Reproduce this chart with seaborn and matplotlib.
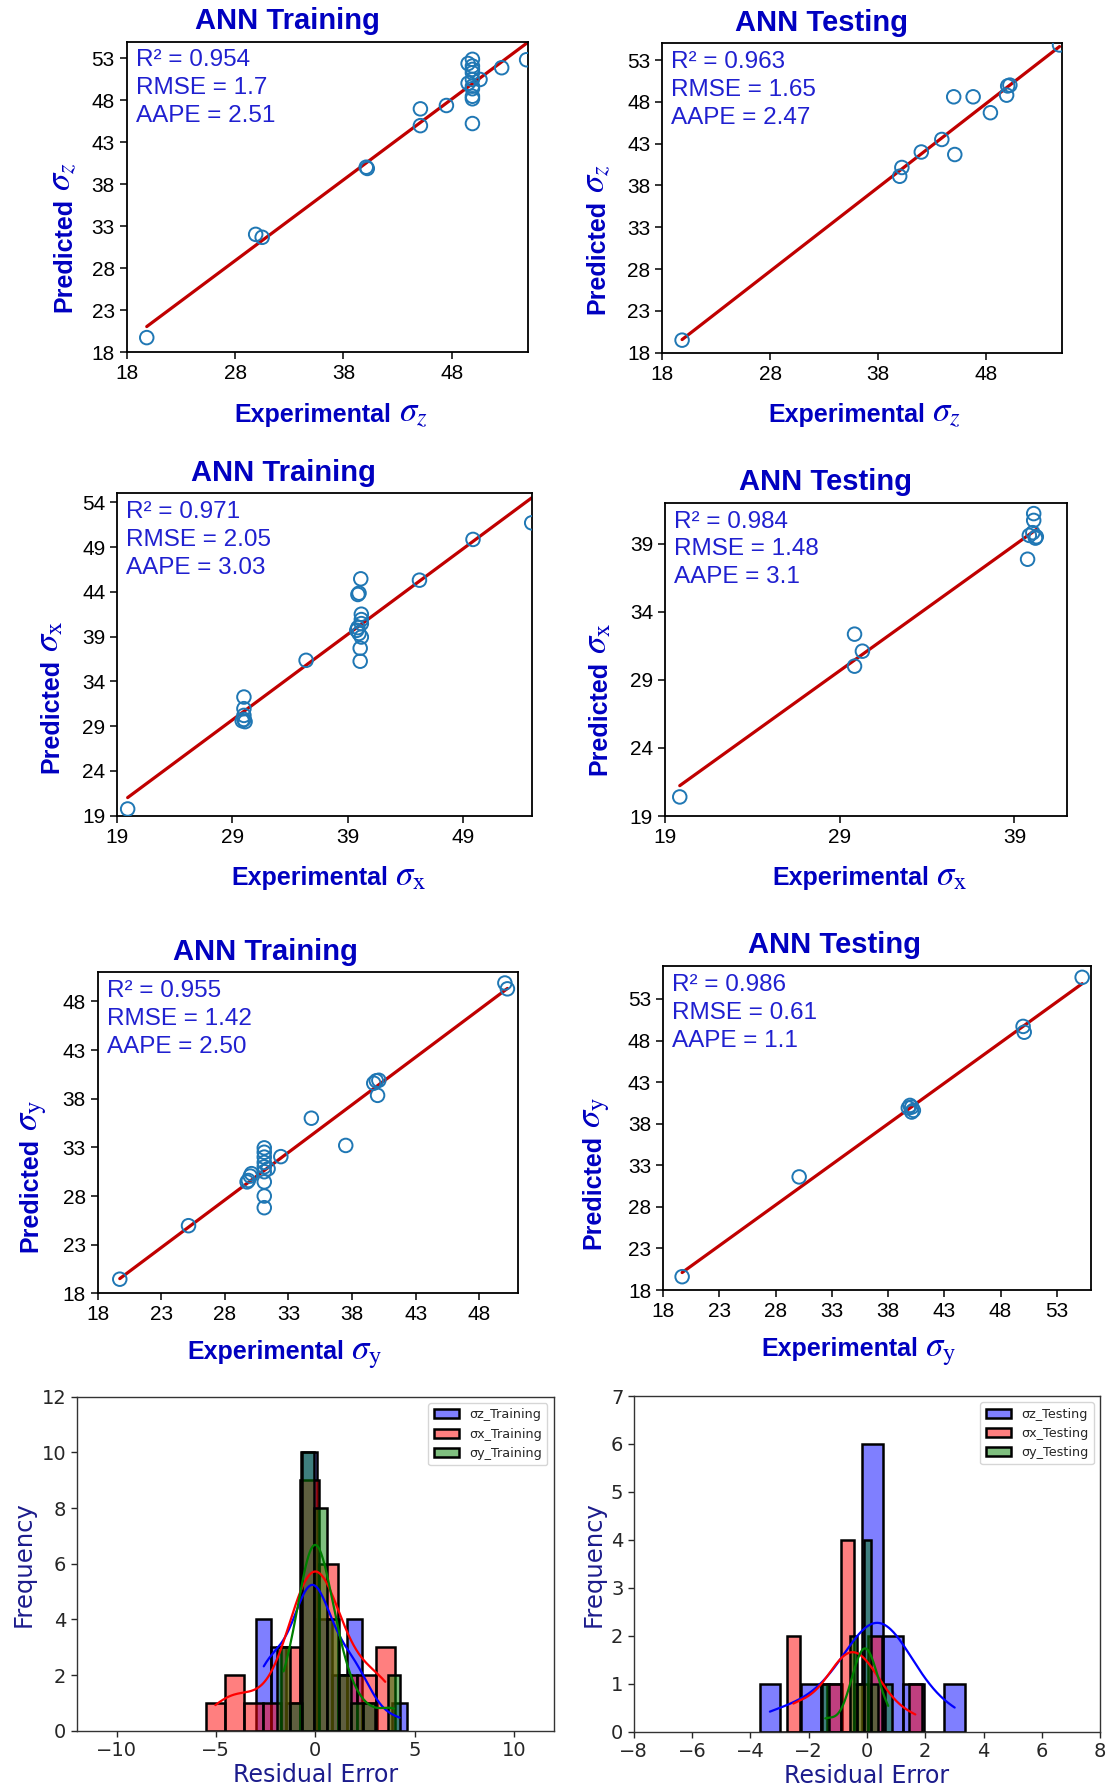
import numpy as np
import pandas as pd
import matplotlib
matplotlib.use("Agg")
import matplotlib.pyplot as plt
import seaborn as sns

# ---------------- data: experimental vs predicted stresses ----------------
z_train_exp = [19.85, 29.9, 30.5, 40.1, 40.2, 45.1, 45.1, 47.5, 49.5, 49.9, 49.9, 49.9,
               49.9, 49.9, 49.9, 49.9, 49.9, 49.5, 50.6, 52.6, 54.9, 49.9, 49.9]
z_train_pred = [19.75, 32.05, 31.7, 40.05, 39.9, 47.0, 45.0, 47.4, 50.05, 45.25, 48.2, 48.5,
                49.7, 50.5, 51.3, 52.1, 52.9, 52.4, 50.5, 51.9, 52.85, 49.4, 51.7]

z_test_exp = [19.85, 40.0, 40.2, 42.0, 43.9, 45.1, 45.0, 46.8, 48.4, 49.9, 50.2, 50.0, 54.8]
z_test_pred = [19.5, 39.1, 40.15, 42.0, 43.5, 41.7, 48.6, 48.6, 46.7, 48.8, 50.0, 49.9, 54.8]

x_train_exp = [19.9, 30.0, 30.0, 30.0, 30.0, 30.1, 29.85, 35.4, 40.15, 40.0, 39.9, 40.2,
               40.2, 39.8, 40.0, 40.2, 40.1, 40.1, 45.25, 49.9, 55.0, 40.2, 39.9]
x_train_pred = [19.75, 32.25, 30.95, 30.2, 29.75, 29.5, 29.6, 36.35, 45.45, 43.85, 43.7, 41.5,
                40.45, 39.7, 39.35, 38.95, 37.7, 36.25, 45.3, 49.85, 51.7, 40.9, 40.0]

x_test_exp = [19.85, 29.85, 30.3, 29.85, 39.75, 39.85, 40.05, 40.2, 40.25, 40.1, 40.1]
x_test_pred = [20.4, 32.35, 31.1, 30.0, 37.85, 39.6, 39.8, 39.4, 39.5, 40.7, 41.2]

y_train_exp = [19.75, 25.15, 29.85, 30.0, 30.1, 29.75, 31.1, 31.1, 31.1, 31.1, 31.1, 31.1,
               31.1, 31.1, 31.1, 31.4, 32.4, 34.8, 37.5, 39.7, 39.9, 40.1, 40.0, 50.0, 50.2]
y_train_pred = [19.45, 24.95, 29.6, 30.05, 30.3, 29.45, 26.8, 28.0, 29.45, 30.5, 31.0, 31.45,
                32.0, 32.5, 32.95, 30.8, 32.05, 36.0, 33.2, 39.6, 39.85, 39.9, 38.35, 49.9, 49.3]

y_test_exp = [19.7, 30.1, 39.95, 40.1, 40.25, 39.8, 40.1, 50.0, 50.1, 55.25]
y_test_pred = [19.6, 31.6, 40.2, 40.0, 39.6, 39.9, 39.4, 49.7, 49.0, 55.6]

# fit statistics shown on each panel
stats_text = {
    "z_train": ("0.954", "1.7", "2.51"),
    "z_test": ("0.963", "1.65", "2.47"),
    "x_train": ("0.971", "2.05", "3.03"),
    "x_test": ("0.984", "1.48", "3.1"),
    "y_train": ("0.955", "1.42", "2.50"),
    "y_test": ("0.986", "0.61", "1.1"),
}

# ---------------- data: residual histograms (bin edges and counts) ----------------
sz_train_edges = [-2.97, -2.21, -1.45, -0.69, 0.07, 0.83, 1.59, 2.35, 3.11, 3.87, 4.63]
sz_train_counts = [4, 3, 1, 10, 4, 2, 4, 1, 0, 1]
sx_train_edges = [-5.5, -4.55, -3.6, -2.65, -1.7, -0.75, 0.2, 1.15, 2.1, 3.05, 4.0]
sx_train_counts = [1, 2, 1, 1, 3, 9, 6, 2, 2, 3]
sy_train_edges = [-1.9, -1.28, -0.67, -0.05, 0.57, 1.18, 1.8, 2.42, 3.03, 3.65, 4.27]
sy_train_counts = [3, 1, 10, 8, 4, 2, 1, 1, 0, 2]

sz_test_edges = [-3.68, -2.98, -2.27, -1.57, -0.86, -0.16, 0.55, 1.25, 1.96, 2.66, 3.36]
sz_test_counts = [1, 0, 1, 1, 0, 6, 2, 1, 0, 1]
sx_test_edges = [-2.76, -2.29, -1.83, -1.36, -0.9, -0.43, 0.03, 0.5, 0.96, 1.43, 1.89]
sx_test_counts = [2, 0, 0, 1, 4, 1, 2, 0, 0, 1]
sy_test_edges = [-1.55, -1.31, -1.07, -0.83, -0.59, -0.35, -0.11, 0.13, 0.37, 0.61, 0.85]
sy_test_counts = [1, 0, 0, 0, 2, 1, 4, 1, 0, 1]

# ---------------- style ----------------
sns.set_style("ticks")
plt.rcParams["font.family"] = ["Liberation Sans", "DejaVu Sans"]
plt.rcParams["mathtext.fontset"] = "stix"

TITLE_C = "#0000c0"
STAT_C = "#2020d0"
POINT_C = "#1f77b4"
LINE_C = "#c00000"
HIST_LABEL_C = "#1c1c8c"

W, H = 1111, 1792
fig = plt.figure(figsize=(W / 100, H / 100), dpi=100)


def add_axes(left, top, right, bottom):
    return fig.add_axes([left / W, 1 - bottom / H, (right - left) / W, (bottom - top) / H])


def scatter_panel(box, exp, pred, title, sym, lims, ticks, stats, xlab_pos, ylab_pos):
    ax = add_axes(*box)
    sns.regplot(x=exp, y=pred, ax=ax, ci=None, color=POINT_C,
                scatter_kws=dict(s=95, facecolors="none", linewidths=1.4, alpha=1, zorder=3),
                line_kws=dict(color=LINE_C, lw=2.3, zorder=2))
    ax.set_xlim(lims[0])
    ax.set_ylim(lims[1])
    ax.set_xticks(ticks[0])
    ax.set_yticks(ticks[1])
    ax.tick_params(labelsize=15, length=5, width=1.1, color="black", labelcolor="black")
    for sp in ax.spines.values():
        sp.set_visible(True)
        sp.set_linewidth(1.3)
        sp.set_color("black")
    ax.set_title(title, fontsize=21, fontweight="bold", color=TITLE_C, x=0.40, pad=9)

    # axis labels: bold word followed by a larger serif stress symbol
    ax.set_xlabel("Experimental", fontsize=18, fontweight="bold", color=TITLE_C)
    ax.set_ylabel("Predicted", fontsize=18, fontweight="bold", color=TITLE_C)
    ax.xaxis.label.set_verticalalignment("top")
    ax.xaxis.set_label_coords(*xlab_pos)
    ax.yaxis.set_label_coords(*ylab_pos)
    symbol = "$\\sigma_{%s}$" % sym
    ax.annotate(symbol, xy=(1, 0.22), xycoords=ax.xaxis.label, xytext=(5, 0),
                textcoords="offset points", ha="left", va="baseline", fontsize=25,
                color=TITLE_C, annotation_clip=False)
    ax.annotate(symbol, xy=(0.78, 1), xycoords=ax.yaxis.label, xytext=(0, 5),
                textcoords="offset points", ha="left", va="baseline", rotation=90,
                rotation_mode="anchor", fontsize=25, color=TITLE_C, annotation_clip=False)

    r2, rmse, aape = stats
    ax.text(0.022, 0.975, f"R\u00b2 = {r2}\nRMSE = {rmse}\nAAPE = {aape}",
            transform=ax.transAxes, va="top", ha="left", fontsize=17.5, color=STAT_C,
            linespacing=1.35)
    return ax


t53 = list(range(18, 54, 5))
scatter_panel((126.7, 41.7, 527.7, 352.3), z_train_exp, z_train_pred, "ANN Training", "z",
              ([18, 55], [18, 55]), ([18, 28, 38, 48], t53), stats_text["z_train"],
              (0.465, -0.162), (-0.126, 0.313))
scatter_panel((662.1, 43.3, 1061.7, 352.7), z_test_exp, z_test_pred, "ANN Testing", "z",
              ([18, 55], [18, 55]), ([18, 28, 38, 48], t53), stats_text["z_test"],
              (0.4625, -0.161), (-0.132, 0.31))
scatter_panel((117.3, 493.3, 531.7, 815.7), x_train_exp, x_train_pred, "ANN Training",
              "\\mathrm{x}", ([19, 55], [19, 55]), ([19, 29, 39, 49], list(range(19, 55, 5))),
              stats_text["x_train"], (0.465, -0.156), (-0.13, 0.31))
scatter_panel((664.9, 502.7, 1066.9, 816), x_test_exp, x_test_pred, "ANN Testing",
              "\\mathrm{x}", ([19, 42], [19, 42]), ([19, 29, 39], [19, 24, 29, 34, 39]),
              stats_text["x_test"], (0.463, -0.16), (-0.134, 0.314))
scatter_panel((97.5, 972.3, 517.6, 1293.3), y_train_exp, y_train_pred, "ANN Training",
              "\\mathrm{y}", ([18, 51], [18, 51]), (list(range(18, 49, 5)), list(range(18, 49, 5))),
              stats_text["y_train"], (0.40, -0.146), (-0.132, 0.306))
scatter_panel((663.0, 965.7, 1090.6, 1290), y_test_exp, y_test_pred, "ANN Testing",
              "\\mathrm{y}", ([18, 56], [18, 57]), (list(range(18, 54, 5)), list(range(18, 54, 5))),
              stats_text["y_test"], (0.4125, -0.145), (-0.135, 0.303))


def hist_panel(box, series, xlim, xticks, ylim, bw):
    ax = add_axes(*box)
    for edges, counts, color, label in series:
        e = np.asarray(edges, dtype=float)
        frame = pd.DataFrame({"residual": (e[:-1] + e[1:]) / 2, "count": counts})
        sns.histplot(data=frame, x="residual", weights="count", bins=list(edges), kde=True,
                     color=color, alpha=0.5, edgecolor="black", linewidth=1.8, label=label,
                     ax=ax, kde_kws=dict(bw_adjust=bw), line_kws=dict(lw=1.6))
    ax.set_xlim(xlim)
    ax.set_xticks(xticks)
    ax.set_ylim(ylim)
    for sp in ax.spines.values():
        sp.set_visible(True)
        sp.set_color("#333333")
        sp.set_linewidth(1.0)
    ax.tick_params(labelsize=14, length=4, width=1.0)
    for lab in ax.get_xticklabels() + ax.get_yticklabels():
        lab.set_family("DejaVu Sans")
    ax.set_xlabel("Residual Error", fontsize=17, color=HIST_LABEL_C, family="DejaVu Sans",
                  labelpad=2)
    ax.set_ylabel("Frequency", fontsize=17.5, color=HIST_LABEL_C, family="DejaVu Sans")
    ax.legend(loc="upper right", prop=dict(family="DejaVu Sans", size=9.2))
    return ax


hist_panel((76.8, 1396.7, 553.6, 1730.7),
           [(sz_train_edges, sz_train_counts, "blue", "\u03c3z_Training"),
            (sx_train_edges, sx_train_counts, "red", "\u03c3x_Training"),
            (sy_train_edges, sy_train_counts, "green", "\u03c3y_Training")],
           (-12, 12), [-10, -5, 0, 5, 10], (0, 12), 0.65)
hist_panel((633.8, 1396, 1100.1, 1731.7),
           [(sz_test_edges, sz_test_counts, "blue", "\u03c3z_Testing"),
            (sx_test_edges, sx_test_counts, "red", "\u03c3x_Testing"),
            (sy_test_edges, sy_test_counts, "green", "\u03c3y_Testing")],
           (-8, 8), list(range(-8, 9, 2)), (0, 7), 0.8)

fig.savefig("out.png", dpi=100)
